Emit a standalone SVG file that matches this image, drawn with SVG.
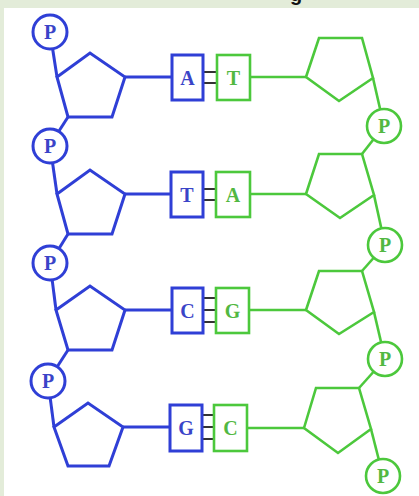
<svg xmlns="http://www.w3.org/2000/svg" width="419" height="496" viewBox="0 0 419 496">
<style>
.bg{fill:#e3ecd9}
.b{stroke:#2f3fd6;stroke-width:3;fill:#fff;stroke-linejoin:miter}
.g{stroke:#4cc83c;stroke-width:2.6;fill:#fff;stroke-linejoin:miter}
.bl{stroke:#2f3fd6;stroke-width:3;fill:none}
.gl{stroke:#4cc83c;stroke-width:2.6;fill:none}
.h{stroke:#333;stroke-width:2;fill:none}
.tb{font-family:"Liberation Serif","Times New Roman",serif;font-weight:bold;font-size:20px;fill:#3a44c8;text-anchor:middle}
.tg{font-family:"Liberation Serif","Times New Roman",serif;font-weight:bold;font-size:20px;fill:#52b842;text-anchor:middle}
</style>
<rect x="0" y="0" width="419" height="496" fill="#fff"/>
<rect class="bg" x="0" y="0" width="419" height="8"/>
<rect class="bg" x="0" y="0" width="4" height="496"/>
<text x="290" y="1" font-family="Liberation Sans,Arial,sans-serif" font-weight="bold" font-size="20" fill="#111">g</text>
<g id="connectors">
<!-- blue strand -->
<line class="bl" x1="50" y1="32" x2="57" y2="77"/>
<line class="bl" x1="68" y1="117" x2="50" y2="145"/>
<line class="bl" x1="50" y1="145" x2="57" y2="194"/>
<line class="bl" x1="68" y1="234" x2="50" y2="263"/>
<line class="bl" x1="50" y1="263" x2="56" y2="310"/>
<line class="bl" x1="68" y1="350" x2="48" y2="381"/>
<line class="bl" x1="48" y1="381" x2="54" y2="427"/>
<line class="bl" x1="125" y1="77" x2="172" y2="77"/>
<line class="bl" x1="125" y1="194" x2="172" y2="194"/>
<line class="bl" x1="125" y1="310" x2="172" y2="310"/>
<line class="bl" x1="123" y1="427" x2="170" y2="427"/>
<!-- green strand -->
<line class="gl" x1="250" y1="77" x2="306" y2="77"/>
<line class="gl" x1="250" y1="194" x2="306" y2="194"/>
<line class="gl" x1="249" y1="310" x2="306" y2="310"/>
<line class="gl" x1="247" y1="428" x2="304" y2="428"/>
<line class="gl" x1="373" y1="78" x2="384" y2="126"/>
<line class="gl" x1="384" y1="126" x2="362" y2="154"/>
<line class="gl" x1="374" y1="195" x2="385" y2="245"/>
<line class="gl" x1="385" y1="245" x2="362" y2="271"/>
<line class="gl" x1="374" y1="312" x2="385" y2="359"/>
<line class="gl" x1="385" y1="359" x2="359" y2="388"/>
<line class="gl" x1="371" y1="429" x2="383" y2="476"/>
<!-- hydrogen bonds -->
<line class="h" x1="203" y1="72" x2="217" y2="72"/>
<line class="h" x1="203" y1="83" x2="217" y2="83"/>
<line class="h" x1="203" y1="189" x2="216" y2="189"/>
<line class="h" x1="203" y1="200" x2="216" y2="200"/>
<line class="h" x1="203" y1="298" x2="216" y2="298"/>
<line class="h" x1="203" y1="310" x2="216" y2="310"/>
<line class="h" x1="203" y1="322" x2="216" y2="322"/>
<line class="h" x1="202" y1="415" x2="214" y2="415"/>
<line class="h" x1="202" y1="427" x2="214" y2="427"/>
<line class="h" x1="202" y1="439" x2="214" y2="439"/>
</g>
<!-- blue phosphates -->
<g id="bp1"><circle class="b" cx="50" cy="32" r="17"/><text class="tb" x="50" y="39">P</text></g>
<g id="bp2"><circle class="b" cx="50" cy="146" r="17"/><text class="tb" x="50" y="153">P</text></g>
<g id="bp3"><circle class="b" cx="50" cy="263" r="17"/><text class="tb" x="50" y="270">P</text></g>
<g id="bp4"><circle class="b" cx="48" cy="381" r="17"/><text class="tb" x="48" y="388">P</text></g>
<!-- blue sugars -->
<g id="bs1"><polygon class="b" points="57,77 90,53 125,77 112,117 68,117"/></g>
<g id="bs2"><polygon class="b" points="57,194 90,170 125,194 112,234 68,234"/></g>
<g id="bs3"><polygon class="b" points="56,310 90,286 125,310 112,350 68,350"/></g>
<g id="bs4"><polygon class="b" points="54,427 88,403 123,427 109,466 68,466"/></g>
<!-- blue bases -->
<g id="bb1"><rect class="b" x="172" y="55" width="31" height="45"/><text class="tb" x="187.5" y="85">A</text></g>
<g id="bb2"><rect class="b" x="171" y="172" width="32" height="45"/><text class="tb" x="187" y="202">T</text></g>
<g id="bb3"><rect class="b" x="172" y="288" width="31" height="45"/><text class="tb" x="187.5" y="318">C</text></g>
<g id="bb4"><rect class="b" x="170" y="405" width="32" height="46"/><text class="tb" x="186" y="435">G</text></g>
<!-- green bases -->
<g id="gb1"><rect class="g" x="217" y="55" width="33" height="45"/><text class="tg" x="233.5" y="85">T</text></g>
<g id="gb2"><rect class="g" x="216" y="172" width="34" height="45"/><text class="tg" x="233" y="202">A</text></g>
<g id="gb3"><rect class="g" x="216" y="288" width="33" height="45"/><text class="tg" x="232.5" y="318">G</text></g>
<g id="gb4"><rect class="g" x="214" y="405" width="33" height="46"/><text class="tg" x="230.5" y="435">C</text></g>
<!-- green sugars -->
<g id="gs1"><polygon class="g" points="306,77 319,38 362,38 373,78 339,101"/></g>
<g id="gs2"><polygon class="g" points="306,194 319,154 362,154 374,195 340,218"/></g>
<g id="gs3"><polygon class="g" points="306,310 319,271 362,271 374,312 339,334"/></g>
<g id="gs4"><polygon class="g" points="304,428 316,388 359,388 371,429 338,453"/></g>
<!-- green phosphates -->
<g id="gp1"><circle class="g" cx="384" cy="126" r="17"/><text class="tg" x="384" y="133">P</text></g>
<g id="gp2"><circle class="g" cx="385" cy="245" r="17"/><text class="tg" x="385" y="252">P</text></g>
<g id="gp3"><circle class="g" cx="385" cy="359" r="17"/><text class="tg" x="385" y="366">P</text></g>
<g id="gp4"><circle class="g" cx="383" cy="476" r="17"/><text class="tg" x="383" y="483">P</text></g>
</svg>
